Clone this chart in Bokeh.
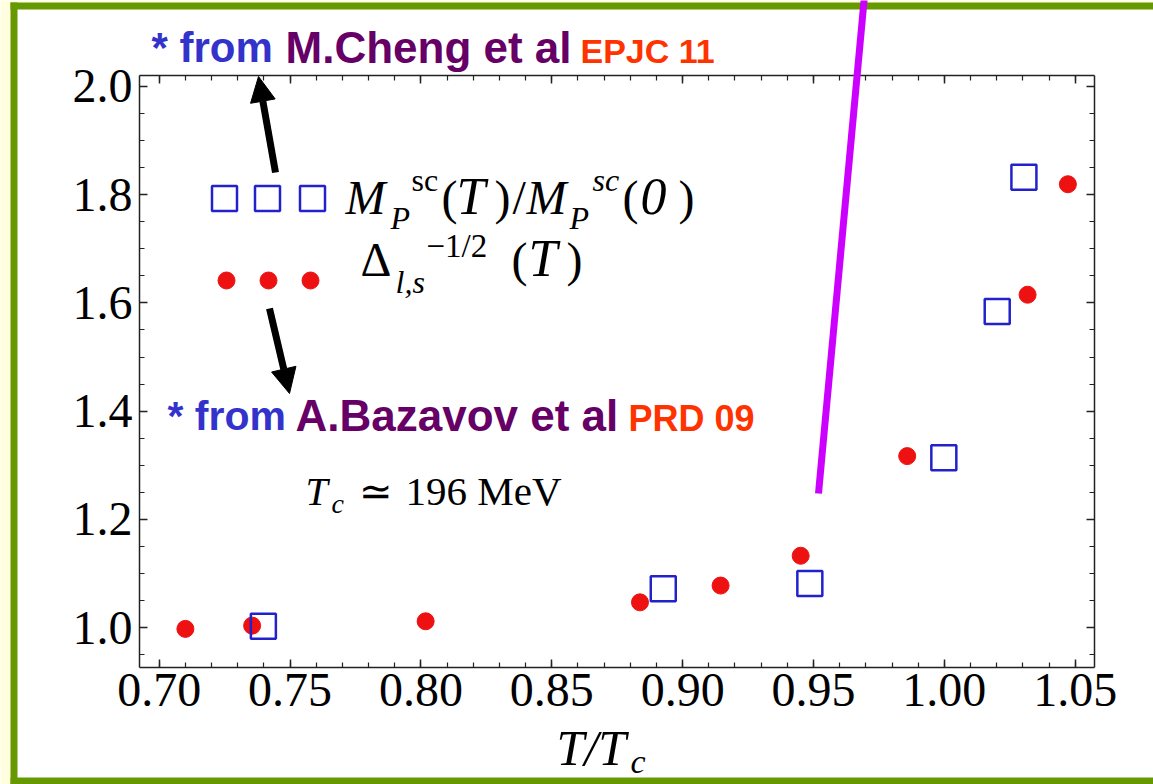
from bokeh.plotting import figure
from bokeh.models import (Label, Arrow, NormalHead, BoxAnnotation, LinearAxis,
                          FixedTicker, Range1d, CustomJSTickFormatter, GridBox)
from bokeh.embed import file_html
from bokeh.resources import INLINE

# ---------------- data ----------------
t_delta = [0.7100, 0.7355, 0.8018, 0.8837, 0.9145, 0.9451, 0.9858, 1.0318, 1.0472]
delta_vals = [0.998, 1.004, 1.012, 1.047, 1.078, 1.133, 1.317, 1.615, 1.819]
t_mass = [0.7398, 0.8926, 0.9486, 0.9998, 1.0202, 1.0304]
mass_vals = [1.003, 1.072, 1.082, 1.314, 1.584, 1.832]

x_ticks = [0.70, 0.75, 0.80, 0.85, 0.90, 0.95, 1.00, 1.05]
x_tick_labels = ["0.70", "0.75", "0.80", "0.85", "0.90", "0.95", "1.00", "1.05"]
y_ticks = [1.0, 1.2, 1.4, 1.6, 1.8, 2.0]
y_tick_labels = ["1.0", "1.2", "1.4", "1.6", "1.8", "2.0"]
x_minor = [round(0.69 + 0.01 * i, 2) for i in range(38)]
y_minor = [round(0.90 + 0.05 * i, 2) for i in range(24)]

# ---------------- layout ----------------
W, H = 1153, 784
FL, FR, FT, FB = 139, 1094, 75, 667
X0, X1 = 0.69247, 1.05737
Y0, Y1 = 0.9267, 2.01976


def sx(px):
    return X0 + (px - FL) / (FR - FL) * (X1 - X0)


def sy(py):
    return Y1 - (py - FT) / (FB - FT) * (Y1 - Y0)


# main plot (axes + data)
p = figure(width=W, height=H, x_range=Range1d(X0, X1), y_range=Range1d(Y0, Y1),
           output_backend="svg", toolbar_location=None,
           min_border_left=FL, min_border_right=W - FR,
           min_border_top=FT, min_border_bottom=H - FB)
p.frame_align = False
p.background_fill_color = "white"
p.border_fill_color = "white"
p.outline_line_color = None
p.xgrid.visible = False
p.ygrid.visible = False

AX = "#222222"


def style(ax, ticks, minor):
    ax.ticker = FixedTicker(ticks=ticks, minor_ticks=minor)
    ax.major_tick_in = 8
    ax.major_tick_out = 0
    ax.minor_tick_in = 5
    ax.minor_tick_out = 0
    ax.axis_line_color = AX
    ax.axis_line_width = 1.5
    ax.major_tick_line_color = AX
    ax.major_tick_line_width = 1.5
    ax.minor_tick_line_color = AX
    ax.minor_tick_line_width = 1.2
    ax.major_label_text_font = "Liberation Serif"
    ax.major_label_text_font_size = "48px"
    ax.major_label_text_color = "black"


xa = p.xaxis[0]
style(xa, x_ticks, x_minor)
xa.major_label_overrides = {t: l for t, l in zip(x_ticks, x_tick_labels)}
xa.major_label_standoff = 6

ya = p.yaxis[0]
style(ya, y_ticks, y_minor)
ya.major_label_overrides = {t: l for t, l in zip(y_ticks, y_tick_labels)}
ya.major_label_standoff = 7

blank = CustomJSTickFormatter(code="return ''")
top_ax = LinearAxis()
style(top_ax, x_ticks, x_minor)
top_ax.formatter = blank
p.add_layout(top_ax, "above")
right_ax = LinearAxis()
style(right_ax, y_ticks, y_minor)
right_ax.formatter = blank
p.add_layout(right_ax, "right")

RED = "#EE1111"
BLUE = "#2222CC"
p.scatter(t_delta, delta_vals, marker="circle", size=17, fill_color=RED, line_color=RED)
p.scatter(t_mass, mass_vals, marker="square", size=25, fill_color=None,
          line_color=BLUE, line_width=2.5)

# legend symbols
leg_sq_x = [224, 267, 312]
leg_dot_x = [226, 268, 310]
p.scatter([sx(v) for v in leg_sq_x], [sy(198)] * 3, marker="square", size=25,
          fill_color=None, line_color=BLUE, line_width=2.5)
p.scatter([sx(v) for v in leg_dot_x], [sy(280)] * 3, marker="circle", size=17,
          fill_color=RED, line_color=RED)

# overlay plot: same data coordinates, extended to the whole canvas
q = figure(width=W, height=H, x_range=Range1d(sx(0), sx(W)), y_range=Range1d(sy(H), sy(0)),
           output_backend="svg", toolbar_location=None,
           x_axis_location=None, y_axis_location=None,
           min_border_left=0, min_border_right=0, min_border_top=0, min_border_bottom=0)
q.frame_align = False
q.background_fill_color = None
q.border_fill_color = None
q.outline_line_color = None
q.xgrid.visible = False
q.ygrid.visible = False

# ---------------- frame decoration ----------------
YEL = "#FFFFE0"
GRN = "#669900"
for (l, r, t, b, c) in [(0, 10, 0, H, YEL), (0, W, 0, 2, YEL), (10, 17, 2, H, GRN),
                        (10, W, 2, 9, GRN), (10, W, 777, H + 5, GRN)]:
    q.add_layout(BoxAnnotation(left=sx(l), right=sx(r), top=sy(t), bottom=sy(b),
                               fill_color=c, fill_alpha=1, line_color=None))

BASE_SHIFT = 0.37  # label anchor vs. glyph baseline, in em


def lab(px, py, text, size, font="Liberation Serif", style="normal", color="black"):
    q.add_layout(Label(x=sx(px), y=sy(py - BASE_SHIFT * size), text=text, text_font=font,
                       text_font_size=f"{size}px", text_font_style=style,
                       text_color=color, text_baseline="alphabetic", text_align="left"))


SANS = "Liberation Sans"
# legend text row 1: M_P^sc(T)/M_P^sc(0)
lab(345, 215, "M", 48, style="italic")
lab(390, 229, "P", 32, style="italic")
lab(411, 191, "sc", 32)
lab(441, 215, "(", 48)
lab(456, 215, "T", 52, style="italic")
lab(494, 215, ")", 48)
lab(512, 215, "/", 48)
lab(526, 215, "M", 48, style="italic")
lab(569, 229, "P", 32, style="italic")
lab(592, 191, "sc", 32, style="italic")
lab(622, 215, "(", 48)
lab(640, 215, "0", 52, style="italic")
lab(678, 215, ")", 48)
# legend text row 2: Delta_{l,s}^{-1/2} (T)
lab(360, 277, "\u0394", 48)
lab(395, 293, "l,s", 32, style="italic")
lab(426, 258, "\u22121/2", 33)
lab(511, 277, "(", 48)
lab(528, 277, "T", 52, style="italic")
lab(566, 277, ")", 48)

# Tc text
lab(305, 506, "T", 40, style="italic")
lab(331, 513, "c", 28, style="italic")
lab(358, 506, "\u2243", 40)
lab(405, 506, "196 MeV", 41)

# source annotations
lab(151, 63, "* from", 42, font=SANS, style="bold", color="#3333CC")
lab(285, 63, "M.Cheng et al", 44, font=SANS, style="bold", color="#660066")
lab(580, 63, "EPJC 11", 34, font=SANS, style="bold", color="#FF3300")
lab(167, 431, "* from", 41, font=SANS, style="bold", color="#3333CC")
lab(295, 431, "A.Bazavov et al", 44, font=SANS, style="bold", color="#660066")
lab(628, 431, "PRD 09", 36, font=SANS, style="bold", color="#FF3300")

# x axis title T/T_c
lab(556, 766, "T/T", 50, style="italic")
lab(630, 774, "c", 34, style="italic")

# arrows
q.add_layout(Arrow(end=NormalHead(size=25, fill_color="black", line_color="black"),
                   x_start=sx(275), y_start=sy(172), x_end=sx(258), y_end=sy(76),
                   line_color="black", line_width=7))
q.add_layout(Arrow(end=NormalHead(size=25, fill_color="black", line_color="black"),
                   x_start=sx(269), y_start=sy(308), x_end=sx(289), y_end=sy(393),
                   line_color="black", line_width=7))
q.add_layout(Arrow(start=None, end=None, x_start=sx(864), y_start=sy(-5),
                   x_end=sx(818), y_end=sy(493), line_color="#CC00FF", line_width=7))

layout = GridBox(children=[(p, 0, 0), (q, 0, 0)])
open("out.html", "w").write(file_html(layout, INLINE))
